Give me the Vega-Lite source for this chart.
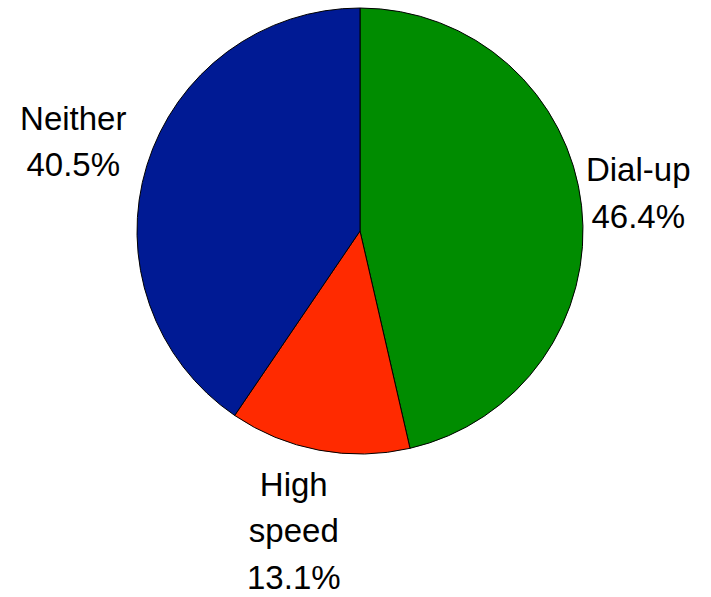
{
  "$schema": "https://vega.github.io/schema/vega-lite/v6.json",
  "width": 702,
  "height": 462,
  "padding": {"left": 9, "top": 0, "right": 0, "bottom": 135},
  "autosize": {"type": "none"},
  "background": "white",
  "config": {"view": {"stroke": null}},
  "data": {
    "values": [
      {"category": "Dial-up", "share": 46.4},
      {"category": "High speed", "share": 13.1},
      {"category": "Neither", "share": 40.5}
    ]
  },
  "transform": [
    {"stack": "share", "groupby": [], "sort": [{"field": "category", "order": "ascending"}], "as": ["start", "end"]},
    {"calculate": "(datum.start + datum.end) / 2", "as": "mid"},
    {"calculate": "datum.category + ' ' + format(datum.share, '.1f') + '%'", "as": "label"}
  ],
  "layer": [
    {
      "mark": {"type": "arc", "outerRadius": 223, "stroke": "#000000", "strokeWidth": 1},
      "encoding": {
        "theta": {"field": "start", "type": "quantitative", "stack": null, "scale": {"domain": [0, 100]}},
        "theta2": {"field": "end"},
        "color": {
          "field": "category",
          "type": "nominal",
          "scale": {"domain": ["Dial-up", "High speed", "Neither"], "range": ["#008c00", "#ff2a00", "#001a94"]},
          "legend": null
        }
      }
    },
    {
      "transform": [{"filter": "datum.category === 'Dial-up'"}],
      "mark": {"type": "text", "radius": 280, "dy": -28, "font": "Liberation Sans", "fontSize": 33, "lineBreak": " ", "lineHeight": 46.5, "align": "center", "baseline": "middle", "color": "#000000"},
      "encoding": {
        "theta": {"field": "mid", "type": "quantitative", "stack": null, "scale": {"domain": [0, 100]}},
        "text": {"field": "label"}
      }
    },
    {
      "transform": [{"filter": "datum.category === 'Neither'"}],
      "mark": {"type": "text", "radius": 300, "dy": -23, "font": "Liberation Sans", "fontSize": 33, "lineBreak": " ", "lineHeight": 46.5, "align": "center", "baseline": "middle", "color": "#000000"},
      "encoding": {
        "theta": {"field": "mid", "type": "quantitative", "stack": null, "scale": {"domain": [0, 100]}},
        "text": {"field": "label"}
      }
    },
    {
      "transform": [{"filter": "datum.category === 'High speed'"}],
      "mark": {"type": "text", "radius": 305, "dx": -10, "dy": -45, "font": "Liberation Sans", "fontSize": 33, "lineBreak": " ", "lineHeight": 46.5, "align": "center", "baseline": "middle", "color": "#000000"},
      "encoding": {
        "theta": {"field": "mid", "type": "quantitative", "stack": null, "scale": {"domain": [0, 100]}},
        "text": {"field": "label"}
      }
    }
  ]
}
